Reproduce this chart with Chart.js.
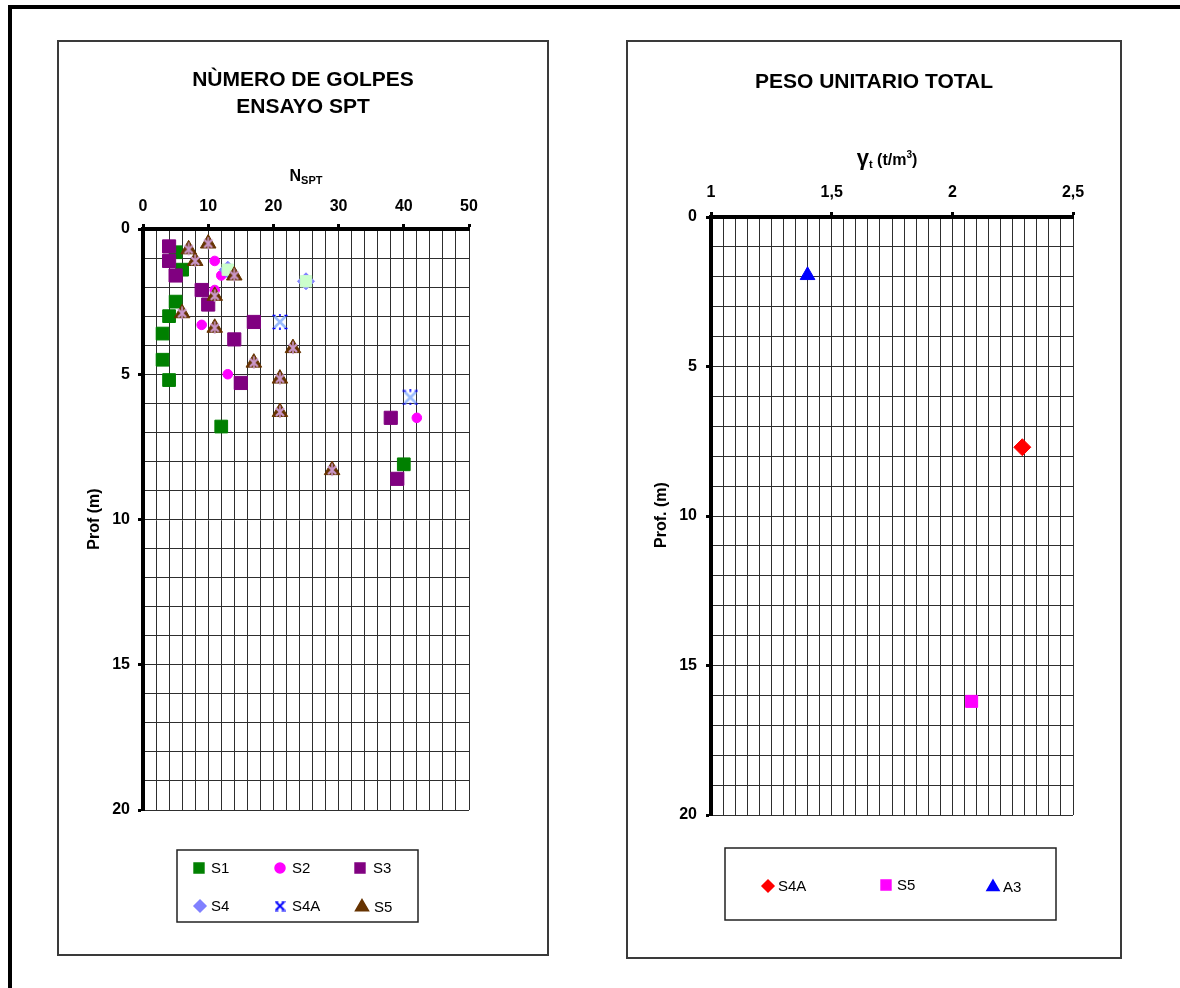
<!DOCTYPE html>
<html><head><meta charset="utf-8">
<script src="https://cdn.jsdelivr.net/npm/chart.js@4.4.0/dist/chart.umd.min.js"></script>
<style>
html,body{margin:0;padding:0;background:#fff;width:1180px;height:988px;overflow:hidden;}
#frame{position:absolute;left:8px;top:5px;width:1200px;height:1100px;border-left:4px solid #000;border-top:4px solid #000;}
.panel{position:absolute;border:2px solid #3a3a3a;box-sizing:border-box;}
canvas{position:absolute;}
</style></head><body>
<div id="frame"></div>
<div class="panel" style="left:57px;top:40px;width:492px;height:916px"></div>
<div class="panel" style="left:626px;top:40px;width:496px;height:919px"></div>
<canvas id="c1" width="488" height="912" style="left:59px;top:42px;width:488px;height:912px"></canvas>
<canvas id="c2" width="492" height="915" style="left:628px;top:42px;width:492px;height:915px"></canvas>
<script>
// ---------- DATA: left chart (N SPT vs depth) ----------
const S1_N  = [5, 6, 5, 4, 3, 3, 4, 12, 40];
const S1_Z  = [0.8, 1.4, 2.5, 3.0, 3.6, 4.5, 5.2, 6.8, 8.1];
const S2_N  = [11, 12, 11, 9, 13, 42];
const S2_Z  = [1.1, 1.6, 2.1, 3.3, 5.0, 6.5];
const S3_N  = [4, 4, 5, 9, 10, 17, 14, 15, 38, 39];
const S3_Z  = [0.6, 1.1, 1.6, 2.1, 2.6, 3.2, 3.8, 5.3, 6.5, 8.6];
const S4_N  = [13, 25];
const S4_Z  = [1.4, 1.8];
const S4A_N = [21, 41];
const S4A_Z = [3.2, 5.8];
const S5_N  = [7, 10, 8, 14, 11, 6, 11, 23, 17, 21, 21, 29];
const S5_Z  = [0.7, 0.5, 1.1, 1.6, 2.3, 2.9, 3.4, 4.1, 4.6, 5.15, 6.3, 8.3];
const N_TICK_LABELS = [0, 10, 20, 30, 40, 50];
const Z_TICK_LABELS = [0, 5, 10, 15, 20];

// ---------- DATA: right chart (unit weight vs depth) ----------
const R_S4A_G = [2.29]; const R_S4A_Z = [7.7];
const R_S5_G  = [2.08]; const R_S5_Z  = [16.2];
const R_A3_G  = [1.4];  const R_A3_Z  = [1.95];
const G_TICK_LABELS = [1, 1.5, 2, 2.5];

const FAM = "'Liberation Sans', Arial, Helvetica, sans-serif";
const pts = (xs, ys) => xs.map((x, i) => ({x: x, y: ys[i]}));

// ---------- custom marker images ----------
function starLegend() {
  const s = 11; const c = document.createElement('canvas'); c.width = s; c.height = s;
  const g = c.getContext('2d'); g.strokeStyle = '#0000FF';
  g.lineWidth = 2; g.beginPath();
  g.moveTo(1.5, 1.5); g.lineTo(9.5, 9.5); g.moveTo(9.5, 1.5); g.lineTo(1.5, 9.5); g.stroke();
  g.lineWidth = 1.2; g.beginPath();
  g.moveTo(0, 1); g.lineTo(4, 1); g.moveTo(7, 1); g.lineTo(11, 1);
  g.moveTo(0, 10); g.lineTo(4, 10); g.moveTo(7, 10); g.lineTo(11, 10); g.stroke();
  return c;
}
function starPlot() {
  const s = 16; const c = document.createElement('canvas'); c.width = s; c.height = s;
  const g = c.getContext('2d');
  g.strokeStyle = '#99BBFF'; g.lineWidth = 2.6; g.beginPath();
  g.moveTo(2.5, 2.5); g.lineTo(13.5, 13.5); g.moveTo(13.5, 2.5); g.lineTo(2.5, 13.5); g.stroke();
  g.strokeStyle = '#0000FF'; g.lineWidth = 1.6; g.beginPath();
  g.moveTo(0.5, 1.5); g.lineTo(3.5, 1.5); g.moveTo(12.5, 1.5); g.lineTo(15.5, 1.5);
  g.moveTo(0.5, 14.5); g.lineTo(3.5, 14.5); g.moveTo(12.5, 14.5); g.lineTo(15.5, 14.5);
  g.moveTo(8, 0); g.lineTo(8, 2.5); g.moveTo(8, 13.5); g.lineTo(8, 16); g.stroke();
  return c;
}
function pinkStar() {
  const s = 14; const c = document.createElement('canvas'); c.width = s; c.height = s;
  const g = c.getContext('2d'); g.strokeStyle = '#CC99CC';
  g.lineWidth = 2.2; g.beginPath();
  g.moveTo(3, 3); g.lineTo(11, 11); g.moveTo(11, 3); g.lineTo(3, 11); g.stroke();
  g.lineWidth = 1.6; g.beginPath(); g.moveTo(7, 0.5); g.lineTo(7, 13); g.stroke();
  return c;
}
const S4A_PLOT = starPlot();
const S4A_LEG  = starLegend();
const S5_OVER  = pinkStar();

// ---------- helpers ----------
function drawRich(ctx, parts, cx, base) {
  let total = 0;
  parts.forEach(p => { ctx.font = (p.w || 'bold') + ' ' + p.s + 'px ' + (p.f || FAM); p.width = ctx.measureText(p.t).width; total += p.width; });
  let x = cx - total / 2;
  ctx.textAlign = 'left'; ctx.textBaseline = 'alphabetic'; ctx.fillStyle = '#000';
  parts.forEach(p => { ctx.font = (p.w || 'bold') + ' ' + p.s + 'px ' + (p.f || FAM); ctx.fillText(p.t, x, base + (p.dy || 0)); x += p.width; });
}
function drawLegend(ctx, box, items) {
  ctx.save();
  ctx.strokeStyle = '#222'; ctx.lineWidth = 1.5;
  ctx.strokeRect(box.x, box.y, box.w, box.h);
  items.forEach(it => {
    ctx.fillStyle = it.color; ctx.strokeStyle = it.color;
    Chart.helpers.drawPoint(ctx, {pointStyle: it.style, radius: it.r, rotation: 0, borderWidth: 1}, it.mx, it.my);
    ctx.fillStyle = '#000'; ctx.font = 'normal 15px ' + FAM; ctx.textAlign = 'left'; ctx.textBaseline = 'middle';
    ctx.fillText(it.label, it.tx, it.my + 1);
  });
  ctx.restore();
}
function fixedSize(w, h) {
  return s => { if (w != null) s.width = w; if (h != null) s.height = h; };
}
const majorN = v => N_TICK_LABELS.some(t => Math.abs(t - v) < 1e-9);
const majorZ = v => Z_TICK_LABELS.some(t => Math.abs(t - v) < 1e-9);
const majorG = v => G_TICK_LABELS.some(t => Math.abs(t - v) < 1e-6);
const GRID = '#2e2e2e';

Chart.defaults.font.family = FAM;
Chart.defaults.color = '#000';

// ---------- LEFT CHART ----------
const leftDecor = {
  id: 'leftDecor',
  afterDraw(chart) {
    const ctx = chart.ctx; ctx.save();
    ctx.fillStyle = '#000'; ctx.textAlign = 'center'; ctx.textBaseline = 'alphabetic';
    ctx.font = 'bold 21px ' + FAM;
    ctx.fillText('NÙMERO DE GOLPES', 244, 44);
    ctx.fillText('ENSAYO SPT', 244, 71);
    drawRich(ctx, [{t: 'N', s: 16}, {t: 'SPT', s: 11, dy: 3}], 247, 139);
    ctx.save(); ctx.translate(36, 477); ctx.rotate(-Math.PI / 2);
    ctx.font = 'bold 16px ' + FAM; ctx.textAlign = 'center'; ctx.textBaseline = 'middle';
    ctx.fillText('Prof (m)', 0, 0); ctx.restore();
    const ds = chart.data.datasets;
    drawLegend(ctx, {x: 118, y: 808, w: 241, h: 72}, [
      {label: ds[0].label, style: 'rect', r: 7, color: '#008000', mx: 140, my: 826, tx: 152},
      {label: ds[1].label, style: 'circle', r: 5, color: '#FF00FF', mx: 221, my: 826, tx: 233},
      {label: ds[2].label, style: 'rect', r: 7, color: '#800080', mx: 301, my: 826, tx: 314},
      {label: ds[3].label, style: 'rectRot', r: 6, color: '#8080FF', mx: 141, my: 864, tx: 152},
      {label: ds[5].label, style: S4A_LEG, r: 6, color: '#0000FF', mx: 221, my: 864, tx: 233},
      {label: ds[6].label, style: 'triangle', r: 7.5, color: '#663300', mx: 303, my: 865, tx: 315}
    ]);
    ctx.restore();
  }
};

new Chart(document.getElementById('c1'), {
  type: 'scatter',
  data: {datasets: [
    {label: 'S1', data: pts(S1_N, S1_Z), pointStyle: 'rect', pointRadius: 9, backgroundColor: '#008000', borderColor: '#008000', borderWidth: 1, order: 10},
    {label: 'S2', data: pts(S2_N, S2_Z), pointStyle: 'circle', pointRadius: 4.8, backgroundColor: '#FF00FF', borderColor: '#FF00FF', borderWidth: 1, order: 9},
    {label: 'S3', data: pts(S3_N, S3_Z), pointStyle: 'rect', pointRadius: 9.3, backgroundColor: '#800080', borderColor: '#800080', borderWidth: 1, order: 8},
    {label: 'S4', data: pts(S4_N, S4_Z), pointStyle: 'rectRot', pointRadius: 8.5, backgroundColor: '#8080FF', borderColor: '#8080FF', borderWidth: 1, order: 7},
    {label: 'S4 relleno', data: pts(S4_N, S4_Z), pointStyle: 'rect', pointRadius: 8, backgroundColor: '#CCFFCC', borderColor: '#CCFFCC', borderWidth: 1, order: 6},
    {label: 'S4A', data: pts(S4A_N, S4A_Z), pointStyle: S4A_PLOT, pointRadius: 8, backgroundColor: '#0000FF', borderColor: '#0000FF', order: 5},
    {label: 'S5', data: pts(S5_N, S5_Z), pointStyle: 'triangle', pointRadius: 9, backgroundColor: '#663300', borderColor: '#663300', borderWidth: 1, order: 4},
    {label: 'S5 marca', data: pts(S5_N, S5_Z), pointStyle: S5_OVER, pointRadius: 7, backgroundColor: '#CC99CC', borderColor: '#CC99CC', order: 3}
  ]},
  options: {
    responsive: false, maintainAspectRatio: false, devicePixelRatio: 1, animation: false, events: [],
    layout: {padding: {left: 0, top: 0, right: 78, bottom: 144}},
    plugins: {legend: {display: false}, tooltip: {enabled: false}, title: {display: false}},
    scales: {
      x: {
        type: 'linear', position: 'top', min: 0, max: 50,
        afterFit: fixedSize(null, 187),
        border: {display: true, color: '#000', width: 4},
        grid: {color: GRID, lineWidth: 1, tickLength: 5, tickWidth: 3,
               tickColor: c => (c.tick && majorN(c.tick.value)) ? '#000' : 'rgba(0,0,0,0)'},
        ticks: {stepSize: 2, maxTicksLimit: 1000, autoSkip: false, maxRotation: 0, padding: 8,
                font: {size: 16, weight: 'bold'}, color: '#000',
                callback: v => majorN(v) ? String(Math.round(v)) : ''}
      },
      y: {
        type: 'linear', position: 'left', min: 0, max: 20, reverse: true,
        afterFit: fixedSize(84, null),
        border: {display: true, color: '#000', width: 4},
        grid: {color: GRID, lineWidth: 1, tickLength: 5, tickWidth: 3,
               tickColor: c => (c.tick && majorZ(c.tick.value)) ? '#000' : 'rgba(0,0,0,0)'},
        ticks: {stepSize: 1, maxTicksLimit: 1000, autoSkip: false, padding: 8,
                font: {size: 16, weight: 'bold'}, color: '#000',
                callback: v => majorZ(v) ? String(Math.round(v)) : ''}
      }
    }
  },
  plugins: [leftDecor]
});

// ---------- RIGHT CHART ----------
const rightDecor = {
  id: 'rightDecor',
  afterDraw(chart) {
    const ctx = chart.ctx; ctx.save();
    ctx.fillStyle = '#000'; ctx.textAlign = 'center'; ctx.textBaseline = 'alphabetic';
    ctx.font = 'bold 21px ' + FAM;
    ctx.fillText('PESO UNITARIO TOTAL', 246, 46);
    drawRich(ctx, [{t: 'γ', s: 22}, {t: 't', s: 11, dy: 3}, {t: ' (t/m', s: 16}, {t: '3', s: 10, dy: -7}, {t: ')', s: 16}], 259, 123);
    ctx.save(); ctx.translate(34, 473); ctx.rotate(-Math.PI / 2);
    ctx.font = 'bold 16px ' + FAM; ctx.textAlign = 'center'; ctx.textBaseline = 'middle';
    ctx.fillText('Prof. (m)', 0, 0); ctx.restore();
    const ds = chart.data.datasets;
    drawLegend(ctx, {x: 97, y: 806, w: 331, h: 72}, [
      {label: ds[0].label, style: 'rectRot', r: 6, color: '#FF0000', mx: 140, my: 844, tx: 150},
      {label: ds[1].label, style: 'rect', r: 7, color: '#FF00FF', mx: 258, my: 843, tx: 269},
      {label: ds[2].label, style: 'triangle', r: 7, color: '#0000FF', mx: 365, my: 845, tx: 375}
    ]);
    ctx.restore();
  }
};

new Chart(document.getElementById('c2'), {
  type: 'scatter',
  data: {datasets: [
    {label: 'S4A', data: pts(R_S4A_G, R_S4A_Z), pointStyle: 'rectRot', pointRadius: 8.5, backgroundColor: '#FF0000', borderColor: '#FF0000', borderWidth: 1, order: 3},
    {label: 'S5', data: pts(R_S5_G, R_S5_Z), pointStyle: 'rect', pointRadius: 8.5, backgroundColor: '#FF00FF', borderColor: '#FF00FF', borderWidth: 1, order: 2},
    {label: 'A3', data: pts(R_A3_G, R_A3_Z), pointStyle: 'triangle', pointRadius: 8.5, backgroundColor: '#0000FF', borderColor: '#0000FF', borderWidth: 1, order: 1}
  ]},
  options: {
    responsive: false, maintainAspectRatio: false, devicePixelRatio: 1, animation: false, events: [],
    layout: {padding: {left: 0, top: 0, right: 47, bottom: 142}},
    plugins: {legend: {display: false}, tooltip: {enabled: false}, title: {display: false}},
    scales: {
      x: {
        type: 'linear', position: 'top', min: 1, max: 2.5,
        afterFit: fixedSize(null, 175),
        border: {display: true, color: '#000', width: 4},
        grid: {color: GRID, lineWidth: 1, tickLength: 5, tickWidth: 3,
               tickColor: c => (c.tick && majorG(c.tick.value)) ? '#000' : 'rgba(0,0,0,0)'},
        ticks: {stepSize: 0.05, maxTicksLimit: 1000, autoSkip: false, maxRotation: 0, padding: 10,
                font: {size: 16, weight: 'bold'}, color: '#000',
                callback: v => majorG(v) ? String(Math.round(v * 10) / 10).replace('.', ',') : ''}
      },
      y: {
        type: 'linear', position: 'left', min: 0, max: 20, reverse: true,
        afterFit: fixedSize(83, null),
        border: {display: true, color: '#000', width: 4},
        grid: {color: GRID, lineWidth: 1, tickLength: 5, tickWidth: 3,
               tickColor: c => (c.tick && majorZ(c.tick.value)) ? '#000' : 'rgba(0,0,0,0)'},
        ticks: {stepSize: 1, maxTicksLimit: 1000, autoSkip: false, padding: 9,
                font: {size: 16, weight: 'bold'}, color: '#000',
                callback: v => majorZ(v) ? String(Math.round(v)) : ''}
      }
    }
  },
  plugins: [rightDecor]
});
</script>
</body></html>
